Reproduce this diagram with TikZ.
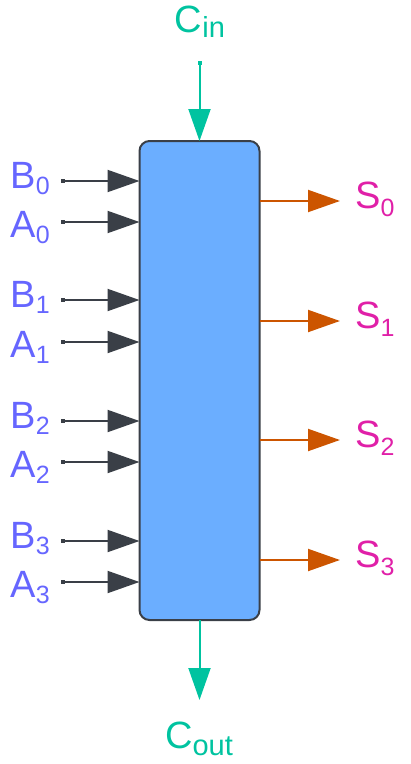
\documentclass[tikz,border=0pt]{standalone}
\usepackage{fontspec}
\setmainfont{Liberation Sans}
\usetikzlibrary{arrows.meta}
\definecolor{lblblue}{HTML}{6666FF}
\definecolor{carryc}{HTML}{00C3A0}
\definecolor{sumc}{HTML}{E020A8}
\definecolor{boxfill}{HTML}{6BAEFF}
\definecolor{boxline}{HTML}{3A3F47}
\definecolor{outc}{HTML}{CC5500}
\newcommand{\sig}[4][-6pt]{{\fontsize{38}{38}\selectfont #2}\raisebox{#1}{\fontsize{#4}{#4}\selectfont #3}}
\begin{document}
\begin{tikzpicture}[x=1pt,y=-1pt,
  tip/.style={-{Triangle[length=32pt,width=22pt]}},
  inarrow/.style={tip, draw=boxline, fill=boxline, line width=2pt, {Square[length=4pt,width=4pt]}-{Triangle[length=32pt,width=22pt]}},
  outarrow/.style={tip, draw=outc, fill=outc, line width=2pt},
  carryarrow/.style={draw=carryc, fill=carryc, line width=2pt},
  lblA/.style={anchor=base east, inner sep=0pt, text=lblblue},
  lblS/.style={anchor=base west, inner sep=0pt, text=sumc},
  lblC/.style={anchor=base, inner sep=0pt, text=carryc}]
\useasboundingbox (0,0) rectangle (411,764);
\node[draw=boxline, fill=boxfill, line width=2pt, rounded corners=10pt,
      minimum width=120pt, minimum height=479pt, inner sep=0pt, outer sep=0pt] (box) at (199.5,380.5) {};
% carry in
\node[lblC] (cinl) at (200,32) {\sig[-5pt]{C}{in}{29}};
\coordinate (cin) at (199.5,61);
\draw[carryarrow, {Square[length=4pt,width=4pt]}-{Triangle[length=32pt,width=22pt]}] (cin) -- (box.north);
% carry out
\coordinate (cout) at (199.5,700);
\draw[carryarrow, -{Triangle[length=32pt,width=22pt]}] (box.south) -- (cout);
\node[lblC] (coutl) at (199,748) {\sig[-7pt]{C}{out}{29}};
% inputs
\foreach \n/\yb/\ya in {0/181/222, 1/300/342, 2/421/462, 3/541/582} {
  \coordinate (b\n) at (61,\yb);
  \coordinate (a\n) at (61,\ya);
  \draw[inarrow] (b\n) -- (box.west |- b\n);
  \draw[inarrow] (a\n) -- (box.west |- a\n);
  \node[lblA] (lb\n) at (50,\yb+7) {\sig{B}{\n}{25}};
  \node[lblA] (la\n) at (50,\ya+15) {\sig{A}{\n}{25}};
}
% outputs
\foreach \n/\y in {0/201, 1/321, 2/440, 3/560} {
  \coordinate (s\n) at (340,\y);
  \draw[outarrow] (box.east |- s\n) -- (s\n);
  \node[lblS] (ls\n) at (355,\y+7) {\sig[-8pt]{S}{\n}{25}};
}
\end{tikzpicture}
\end{document}
